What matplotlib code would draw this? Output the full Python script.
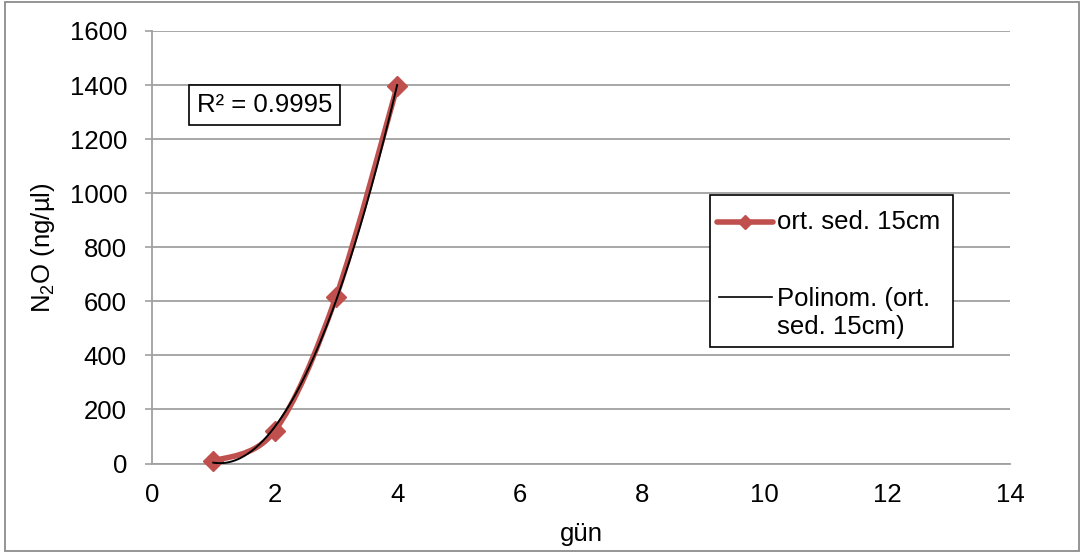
import numpy as np
import matplotlib
matplotlib.use("Agg")
import matplotlib.pyplot as plt
from matplotlib.path import Path
from matplotlib.patches import PathPatch, Rectangle
from matplotlib.lines import Line2D

# ---- data ----
days = [1, 2, 3, 4]
n2o = [8, 120, 615, 1395]
series_label = "ort. sed. 15cm"
trend_label_lines = ["Polinom. (ort.", "sed. 15cm)"]
r2_text = "R² = 0.9995"
x_ticks = [0, 2, 4, 6, 8, 10, 12, 14]
y_ticks = [0, 200, 400, 600, 800, 1000, 1200, 1400, 1600]

plt.rcParams['font.family'] = ['Liberation Sans', 'DejaVu Sans']
plt.rcParams['mathtext.fontset'] = 'custom'
plt.rcParams['mathtext.rm'] = 'Liberation Sans'
plt.rcParams['mathtext.it'] = 'Liberation Sans:italic'
plt.rcParams['mathtext.bf'] = 'Liberation Sans:bold'
FS = 18.5
RED = '#C0504D'
GRID = '#A0A0A0'
W, H = 1081, 556

fig = plt.figure(figsize=(W / 100, H / 100), dpi=100)


def fx(px):
    return px / W


def fy(py):
    return 1 - py / H


# outer chart border
fig.patches.append(Rectangle((fx(5), fy(551)), fx(1079) - fx(5), fy(2) - fy(551),
                             transform=fig.transFigure, fill=False,
                             edgecolor='#8C8C8C', linewidth=1.3))

ax = fig.add_axes([fx(152), fy(463.5), fx(1010) - fx(152), fy(31) - fy(463.5)])
ax.set_xlim(0, 14)
ax.set_ylim(0, 1600)
ax.set_xticks(x_ticks)
ax.set_yticks(y_ticks)
ax.tick_params(axis='both', labelsize=FS, colors='black')
ax.tick_params(axis='y', length=5, color=GRID, width=1.2, pad=13)
ax.tick_params(axis='x', length=0, pad=14)
for s in ['top', 'right']:
    ax.spines[s].set_visible(False)
for s in ['left', 'bottom']:
    ax.spines[s].set_color(GRID)
    ax.spines[s].set_linewidth(1.3)
ax.yaxis.grid(True, color=GRID, linewidth=1.3)
ax.set_axisbelow(True)

ax.set_xlabel("gün", fontsize=FS, labelpad=11)
ax.set_ylabel(r"N$_\mathregular{2}$O (ng/µl)", fontsize=FS, labelpad=9)

# smoothed line (Catmull-Rom style bezier, like Excel's smoothed line)
x = np.array(days, float)
y = np.array(n2o, float)
verts = [(x[0], y[0])]
codes = [Path.MOVETO]
t = 1 / 6
for i in range(len(x) - 1):
    p0 = (x[i - 1], y[i - 1]) if i > 0 else (x[i], y[i])
    p1 = (x[i], y[i])
    p2 = (x[i + 1], y[i + 1])
    p3 = (x[i + 2], y[i + 2]) if i + 2 < len(x) else (x[i + 1], y[i + 1])
    c1 = (p1[0] + (p2[0] - p0[0]) * t, p1[1] + (p2[1] - p0[1]) * t)
    c2 = (p2[0] - (p3[0] - p1[0]) * t, p2[1] - (p3[1] - p1[1]) * t)
    verts += [c1, c2, p2]
    codes += [Path.CURVE4] * 3
ax.add_patch(PathPatch(Path(verts, codes), fill=False, edgecolor=RED,
                       linewidth=4, capstyle='round', joinstyle='round', zorder=3))
ax.plot(days, n2o, linestyle='none', marker='D', markersize=10, color=RED, zorder=4,
        clip_on=False)

# polynomial (order 2) trendline
coef = np.polyfit(x, y, 2)
xs = np.linspace(x.min(), x.max(), 200)
ax.plot(xs, np.polyval(coef, xs), color='black', linewidth=1.4, zorder=5)

# R² box
fig.text(fx(197), fy(105), r2_text, fontsize=FS, va='center', ha='left',
         bbox=dict(boxstyle='square,pad=0.3', facecolor='white', edgecolor='black',
                   linewidth=1.2), zorder=6)

# legend (drawn by hand to match Excel's layout)
fig.patches.append(Rectangle((fx(710), fy(347)), fx(953) - fx(710), fy(195) - fy(347),
                             transform=fig.transFigure, facecolor='white',
                             edgecolor='black', linewidth=1.2, zorder=6))
fig.lines.append(Line2D([fx(717), fx(773)], [fy(222), fy(222)], transform=fig.transFigure,
                        color=RED, linewidth=4, solid_capstyle='round', zorder=7))
fig.lines.append(Line2D([fx(745)], [fy(222)], transform=fig.transFigure, color=RED,
                        marker='D', markersize=7.5, linestyle='none', zorder=8))
fig.lines.append(Line2D([fx(719), fx(772)], [fy(297), fy(297)], transform=fig.transFigure,
                        color='black', linewidth=1.2, zorder=7))
fig.text(fx(777), fy(222), series_label, fontsize=FS, va='center', ha='left', zorder=8)
fig.text(fx(777), fy(299), trend_label_lines[0], fontsize=FS, va='center', ha='left', zorder=8)
fig.text(fx(777), fy(327), trend_label_lines[1], fontsize=FS, va='center', ha='left', zorder=8)

fig.savefig("out.png", dpi=100)
